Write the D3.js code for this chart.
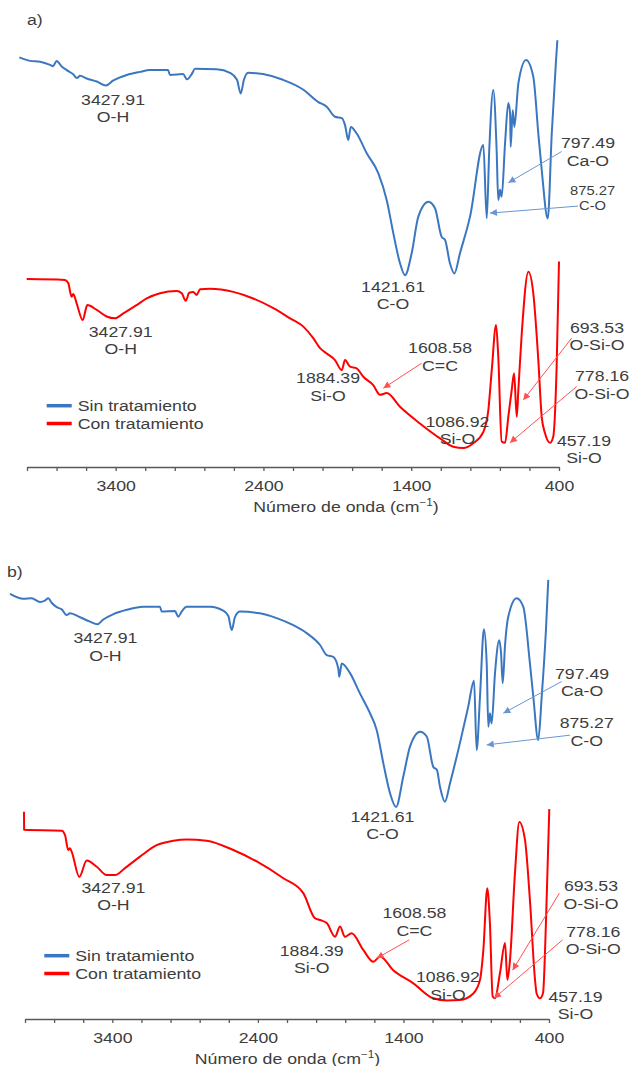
<!DOCTYPE html>
<html>
<head>
<meta charset="utf-8">
<script src="https://d3js.org/d3.v7.min.js"></script>
<style>
body { margin: 0; background: #fff; }
text { font-family: "Liberation Sans", Arial, sans-serif; fill: #3d3d3d; }
.axis path, .axis line { stroke: #595959; stroke-width: 1.3px; }
.axis text { font-size: 15px; fill: #3d3d3d; }
.spectrum { fill: none; stroke-width: 2px; stroke-linejoin: round; }
</style>
</head>
<body>
<script>

var width = 629,
    height = 1066;

var seriesNames = ["Sin tratamiento", "Con tratamiento"];
var colors = ["#3b77c0", "#ff0000"];
var arrowColors = ["#6a95d4", "#ff5050"];
var tickLabels = [3400, 2400, 1400, 400];

// [wavenumber cm-1, transmittance a.u.]
var aSin = [[4052,93.1],[3980,92.3],[3912,92.1],[3844,91.4],[3824,91.1],[3799,92.3],[3765,91.0],[3731,90.2],[3689,89.3],[3662,88.4],[3641,88.9],[3596,88.3],[3528,87.6],[3465,86.7],[3418,87.8],[3325,89.1],[3235,89.8],[3168,90.2],[3046,90.2],[3032,89.1],[2944,89.3],[2917,88.1],[2885,89.3],[2863,90.5],[2716,90.4],[2626,89.6],[2579,88.0],[2554,84.9],[2532,88.0],[2504,89.6],[2403,89.3],[2268,88.0],[2132,85.8],[2031,83.0],[1972,81.9],[1916,79.6],[1870,79.3],[1848,77.7],[1826,74.3],[1809,77.3],[1769,75.8],[1701,71.3],[1623,66.8],[1566,60.7],[1521,53.1],[1476,46.3],[1442,43.6],[1397,48.6],[1352,56.9],[1284,60.3],[1239,58.8],[1194,52.3],[1171,51.6],[1138,46.3],[1108,44.0],[1070,48.6],[1002,56.9],[912,73.2],[889,56.5],[872,72.0],[845,85.7],[822,72.0],[811,60.7],[799,63.0],[788,61.4],[765,73.6],[743,82.7],[731,80.4],[727,72.8],[713,81.1],[702,77.3],[675,87.2],[623,92.5],[574,88.7],[540,75.8],[517,67.5],[476,56.5],[449,75.8],[420,92.5],[411,97.0]];
var aCon = [[4002,42.7],[3743,42.5],[3721,41.8],[3698,38.7],[3687,39.3],[3664,37.2],[3623,33.4],[3592,36.8],[3528,35.7],[3461,34.2],[3405,33.8],[3348,34.9],[3258,36.8],[3190,38.3],[3100,39.5],[2987,40.0],[2953,39.5],[2926,37.8],[2902,39.6],[2875,39.8],[2852,39.1],[2829,40.4],[2762,40.5],[2604,39.8],[2469,38.3],[2333,36.1],[2220,33.8],[2130,31.9],[2063,29.3],[2017,27.0],[1972,25.8],[1916,24.3],[1870,22.0],[1848,24.3],[1814,22.8],[1769,22.4],[1724,20.5],[1657,18.6],[1611,16.4],[1566,16.8],[1476,13.7],[1341,9.9],[1205,6.5],[1115,4.6],[1048,4.3],[980,5.4],[912,8.0],[878,13.0],[855,22.0],[826,32.3],[811,25.1],[788,5.8],[765,5.5],[743,11.4],[720,17.5],[704,21.3],[686,11.4],[675,17.5],[652,30.4],[607,44.4],[574,39.5],[540,24.3],[517,11.4],[495,7.7],[461,5.5],[439,6.9],[416,22.8],[400,46.7]];

var bSin = [[4103,96.6],[4012,95.5],[3954,95.6],[3897,94.8],[3863,95.1],[3840,95.6],[3817,94.6],[3782,93.6],[3748,93.1],[3714,91.8],[3691,92.2],[3622,91.3],[3553,90.3],[3503,89.7],[3462,90.8],[3393,92.0],[3301,93.0],[3187,93.7],[3073,93.7],[3061,92.6],[2970,92.7],[2947,91.4],[2924,92.6],[2889,93.7],[2729,93.7],[2638,92.8],[2603,91.6],[2580,88.4],[2557,91.4],[2523,92.6],[2386,92.2],[2271,91.1],[2157,89.5],[2065,87.7],[1973,85.0],[1927,82.7],[1882,82.3],[1848,79.7],[1841,77.8],[1824,80.8],[1767,78.6],[1699,74.0],[1630,69.5],[1584,65.7],[1538,58.1],[1492,51.3],[1451,48.2],[1401,55.1],[1355,61.9],[1286,65.3],[1240,64.2],[1195,57.3],[1170,56.6],[1149,52.8],[1115,49.4],[1080,53.6],[1012,62.7],[955,71.0],[915,76.9],[897,61.1],[874,73.3],[847,88.6],[828,80.8],[817,66.4],[806,69.5],[794,67.2],[771,78.6],[742,86.1],[730,83.4],[718,76.3],[702,85.0],[680,91.4],[622,95.6],[577,93.7],[531,80.8],[508,73.3],[474,63.4],[450,73.3],[421,88.4],[405,99.8]];
var bCon = [[4007,47.1],[4006,43.0],[3748,42.8],[3725,41.8],[3703,38.4],[3691,38.8],[3679,38.0],[3627,32.3],[3576,36.0],[3507,34.6],[3439,32.7],[3382,32.7],[3313,34.3],[3210,36.9],[3095,39.5],[2981,40.5],[2889,40.8],[2752,40.5],[2569,38.4],[2408,35.8],[2225,32.0],[2088,28.6],[2008,22.9],[1973,22.5],[1927,21.8],[1870,18.7],[1836,21.0],[1802,18.7],[1756,19.5],[1676,15.7],[1607,13.0],[1561,14.2],[1470,11.1],[1332,8.1],[1195,4.7],[1103,4.2],[1012,4.3],[920,5.8],[874,8.9],[851,15.7],[824,29.7],[806,21.8],[787,5.1],[771,4.7],[737,10.4],[702,17.3],[686,8.9],[668,13.4],[634,33.1],[604,44.8],[565,40.7],[531,27.0],[496,8.9],[485,5.8],[462,4.7],[441,5.9],[421,21.8],[398,47.7]];

// band labels: anchor in data units, optional arrow [wn1, t1, wn2, t2]
var aSinLabels = [
  {wn: 3418, t: 82.3, text: ["3427.91", "O-H"]},
  {wn: 1523, t: 39.8, text: ["1421.61", "C-O"]},
  {wn: 204, t: 72.5, text: ["797.49", "Ca-O"], arrow: [382, 71.7, 743, 64.6]},
  {wn: 173, t: 61.8, text: ["875.27", "C-O"], small: true, arrow: [271, 59.3, 867, 57.7]}
];
var aConLabels = [
  {wn: 3366, t: 29.6, text: ["3427.91", "O-H"]},
  {wn: 1963, t: 19.1, text: ["1884.39", "Si-O"]},
  {wn: 1205, t: 25.9, text: ["1608.58", "C=C"], arrow: [1329, 23.6, 1589, 17.9]},
  {wn: 1087, t: 9.2, text: ["1086.92", "Si-O"]},
  {wn: 143, t: 30.5, text: ["693.53", "O-Si-O"], arrow: [314, 29.3, 642, 15.2]},
  {wn: 109, t: 19.5, text: ["778.16", "O-Si-O"], arrow: [280, 18.3, 732, 5.5]},
  {wn: 231, t: 4.8, text: ["457.19", "Si-O"]}
];
var bSinLabels = [
  {wn: 3448, t: 85.4, text: ["3427.91", "O-H"]},
  {wn: 1544, t: 44.8, text: ["1421.61", "C-O"]},
  {wn: 173, t: 77.3, text: ["797.49", "Ca-O"], arrow: [313, 76.7, 714, 69.5]},
  {wn: 141, t: 66.1, text: ["875.27", "C-O"], arrow: [256, 64.5, 828, 62.3]}
];
var bConLabels = [
  {wn: 3393, t: 28.7, text: ["3427.91", "O-H"]},
  {wn: 2030, t: 14.4, text: ["1884.39", "Si-O"]},
  {wn: 1325, t: 22.9, text: ["1608.58", "C=C"], arrow: [1360, 18.0, 1584, 13.8]},
  {wn: 1094, t: 8.3, text: ["1086.92", "Si-O"]},
  {wn: 112, t: 29.1, text: ["693.53", "O-Si-O"], arrow: [329, 28.6, 650, 11.1]},
  {wn: 96, t: 18.7, text: ["778.16", "O-Si-O"], arrow: [306, 18.0, 778, 4.7]},
  {wn: 218, t: 3.9, text: ["457.19", "Si-O"]}
];

var stretch = "scale(1.18,1)";

var svg = d3.select("body").append("svg")
  .attr("width", width)
  .attr("height", height);

var defs = svg.append("defs");
arrowColors.forEach(function(c, i) {
  defs.append("marker")
    .attr("id", "head" + i)
    .attr("viewBox", "0 0 10 10")
    .attr("refX", 10).attr("refY", 5)
    .attr("markerUnits", "userSpaceOnUse")
    .attr("markerWidth", 9).attr("markerHeight", 7)
    .attr("orient", "auto")
    .append("path")
    .attr("d", "M0,0L10,5L0,10z")
    .attr("fill", c);
});

function addText(g, x, y, lines, size, anchor) {
  var t = g.append("text")
    .attr("transform", "translate(" + x + "," + y + ") " + stretch)
    .attr("text-anchor", anchor || "middle")
    .style("font-size", size + "px");
  lines.forEach(function(s, i) {
    t.append("tspan").attr("x", 0).attr("dy", i ? size * 1.17 : 0).text(s);
  });
  return t;
}

function drawPanel(p) {
  var x = d3.scaleLinear().domain([4000, 400]).range([p.x0, p.x1]);
  var y = d3.scaleLinear().domain([0, 100]).range([p.axisY, p.axisY - 440]);
  var g = svg.append("g");

  var line = d3.line()
    .curve(d3.curveMonotoneX)
    .x(function(d) { return x(d[0]); })
    .y(function(d) { return y(d[1]); });

  p.series.forEach(function(s, i) {
    g.append("path")
      .datum(s)
      .attr("class", "spectrum")
      .attr("stroke", colors[i])
      .attr("d", line);
  });

  var axis = d3.axisBottom(x)
    .tickValues(d3.range(4000, 399, -200))
    .tickSize(4)
    .tickSizeOuter(0)
    .tickPadding(9)
    .tickFormat(function(d) { return tickLabels.indexOf(d) >= 0 ? d : ""; });

  var ax = g.append("g")
    .attr("class", "axis")
    .attr("transform", "translate(0," + p.axisY + ")")
    .call(axis);
  ax.selectAll("text").attr("transform", stretch).style("font-family", null);

  var title = g.append("text")
    .attr("transform", "translate(" + p.titleX + "," + (p.axisY + 45) + ") " + stretch)
    .attr("text-anchor", "middle")
    .style("font-size", "15px");
  title.append("tspan").text("Número de onda (cm");
  title.append("tspan").attr("dy", -6).style("font-size", "10px").text("−1");
  title.append("tspan").attr("dy", 6).text(")");

  addText(g, p.letterX, p.letterY, [p.letter], 15, "start");

  p.labels.forEach(function(set, i) {
    set.forEach(function(l) {
      var size = l.small ? 12.5 : 15;
      addText(g, x(l.wn), y(l.t), l.text, size);
      if (l.arrow) {
        g.append("line")
          .attr("x1", x(l.arrow[0])).attr("y1", y(l.arrow[1]))
          .attr("x2", x(l.arrow[2])).attr("y2", y(l.arrow[3]))
          .attr("stroke", arrowColors[i])
          .attr("stroke-width", 1)
          .attr("marker-end", "url(#head" + i + ")");
      }
    });
  });

  var lg = g.append("g")
    .attr("transform", "translate(" + p.legendX + "," + (p.axisY + p.legendDy) + ")");
  seriesNames.forEach(function(name, i) {
    lg.append("line")
      .attr("x1", 0).attr("x2", 25)
      .attr("y1", i * 17.8).attr("y2", i * 17.8)
      .attr("stroke", colors[i])
      .attr("stroke-width", 3.5);
    addText(lg, 31, i * 17.8 + 5, [name], 15, "start");
  });
}

drawPanel({
  x0: 27, x1: 559, axisY: 467,
  series: [aSin, aCon],
  labels: [aSinLabels, aConLabels],
  titleX: 346, letter: "a)", letterX: 27, letterY: 25,
  legendX: 46.7, legendDy: -61.3
});

drawPanel({
  x0: 25, x1: 549, axisY: 1019,
  series: [bSin, bCon],
  labels: [bSinLabels, bConLabels],
  titleX: 287.5, letter: "b)", letterX: 7, letterY: 577,
  legendX: 44.3, legendDy: -63.3
});

</script>
</body>
</html>
